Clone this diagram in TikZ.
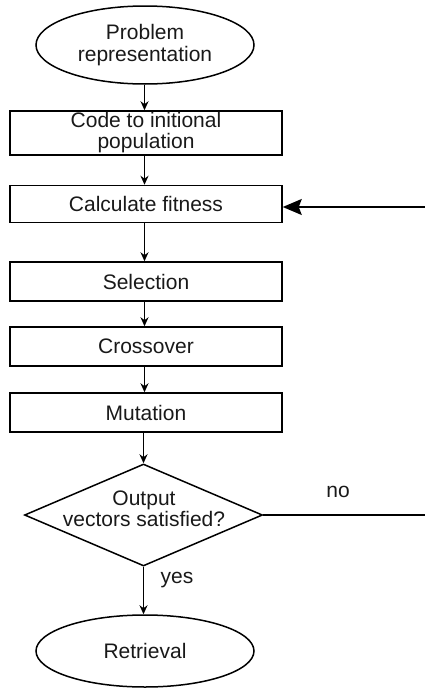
\documentclass[tikz,border=0pt]{standalone}
\usepackage{fontspec}
\setmainfont{Liberation Sans}
\usetikzlibrary{shapes.geometric,arrows.meta}
\begin{document}
\begin{tikzpicture}[x=1pt,y=-1pt,
  every node/.style={font=\fontsize{21}{21}\selectfont, text=black!90, align=center},
  terminal/.style={ellipse, draw, line width=1.5pt, minimum width=218pt, inner sep=0pt},
  stepbox/.style={rectangle, draw, line width=1.5pt, minimum width=272pt, inner sep=0pt},
  decision/.style={diamond, draw, line width=1.5pt, minimum width=238pt, minimum height=102pt, inner sep=0pt},
  flow/.style={line width=1.4pt, -{Stealth[length=9pt,width=8pt]}},
  feedback/.style={line width=1.4pt, -{Stealth[length=19pt,width=16pt,inset=3pt]}},
  plain/.style={line width=1.4pt},
  tag/.style={font=\fontsize{21}{21}\selectfont}]
  \useasboundingbox (0,0) rectangle (425,688);

  \node[terminal, minimum height=78pt, font=\fontsize{21}{22}\selectfont] (prob) at (145,45) {Problem\\representation};
  \node[stepbox, minimum height=44pt] (code) at (146,133) {Code to initional\\population};
  \node[stepbox, minimum height=37pt] (fit) at (146,204) {Calculate fitness};
  \node[stepbox, minimum height=39pt] (sel) at (146,281.5) {Selection};
  \node[stepbox, minimum height=39pt] (cross) at (146,346.5) {Crossover};
  \node[stepbox, minimum height=39pt] (mut) at (146,412.5) {Mutation};
  \node[decision] (dec) at (143.5,515) {};
  \node (dectext) at (144,509) {Output\\vectors satisfied?};
  \node[terminal, minimum height=72pt] (ret) at (145,651) {Retrieval};

  \coordinate (loopin) at (425,207);
  \coordinate (noend) at (425,515);

  \draw[flow] (prob.south -| 144.5,0) -- (144.5,0 |- code.north);
  \draw[flow] (144.5,0 |- code.south) -- (144.5,0 |- fit.north);
  \draw[flow] (144.5,0 |- fit.south) -- (144.5,0 |- sel.north);
  \draw[flow] (144.5,0 |- sel.south) -- (144.5,0 |- cross.north);
  \draw[flow] (144.5,0 |- cross.south) -- (144.5,0 |- mut.north);
  \draw[flow] (mut.south -| dec.north) -- (dec.north);
  \draw[flow] (dec.south) -- (ret.north -| dec.south);
  \draw[plain] (dec.east) -- (noend);
  \draw[feedback] (loopin) -- (loopin -| fit.east);

  \node[tag] (no) at (338,492) {no};
  \node[tag] (yes) at (177,580) {yes};
\end{tikzpicture}
\end{document}
